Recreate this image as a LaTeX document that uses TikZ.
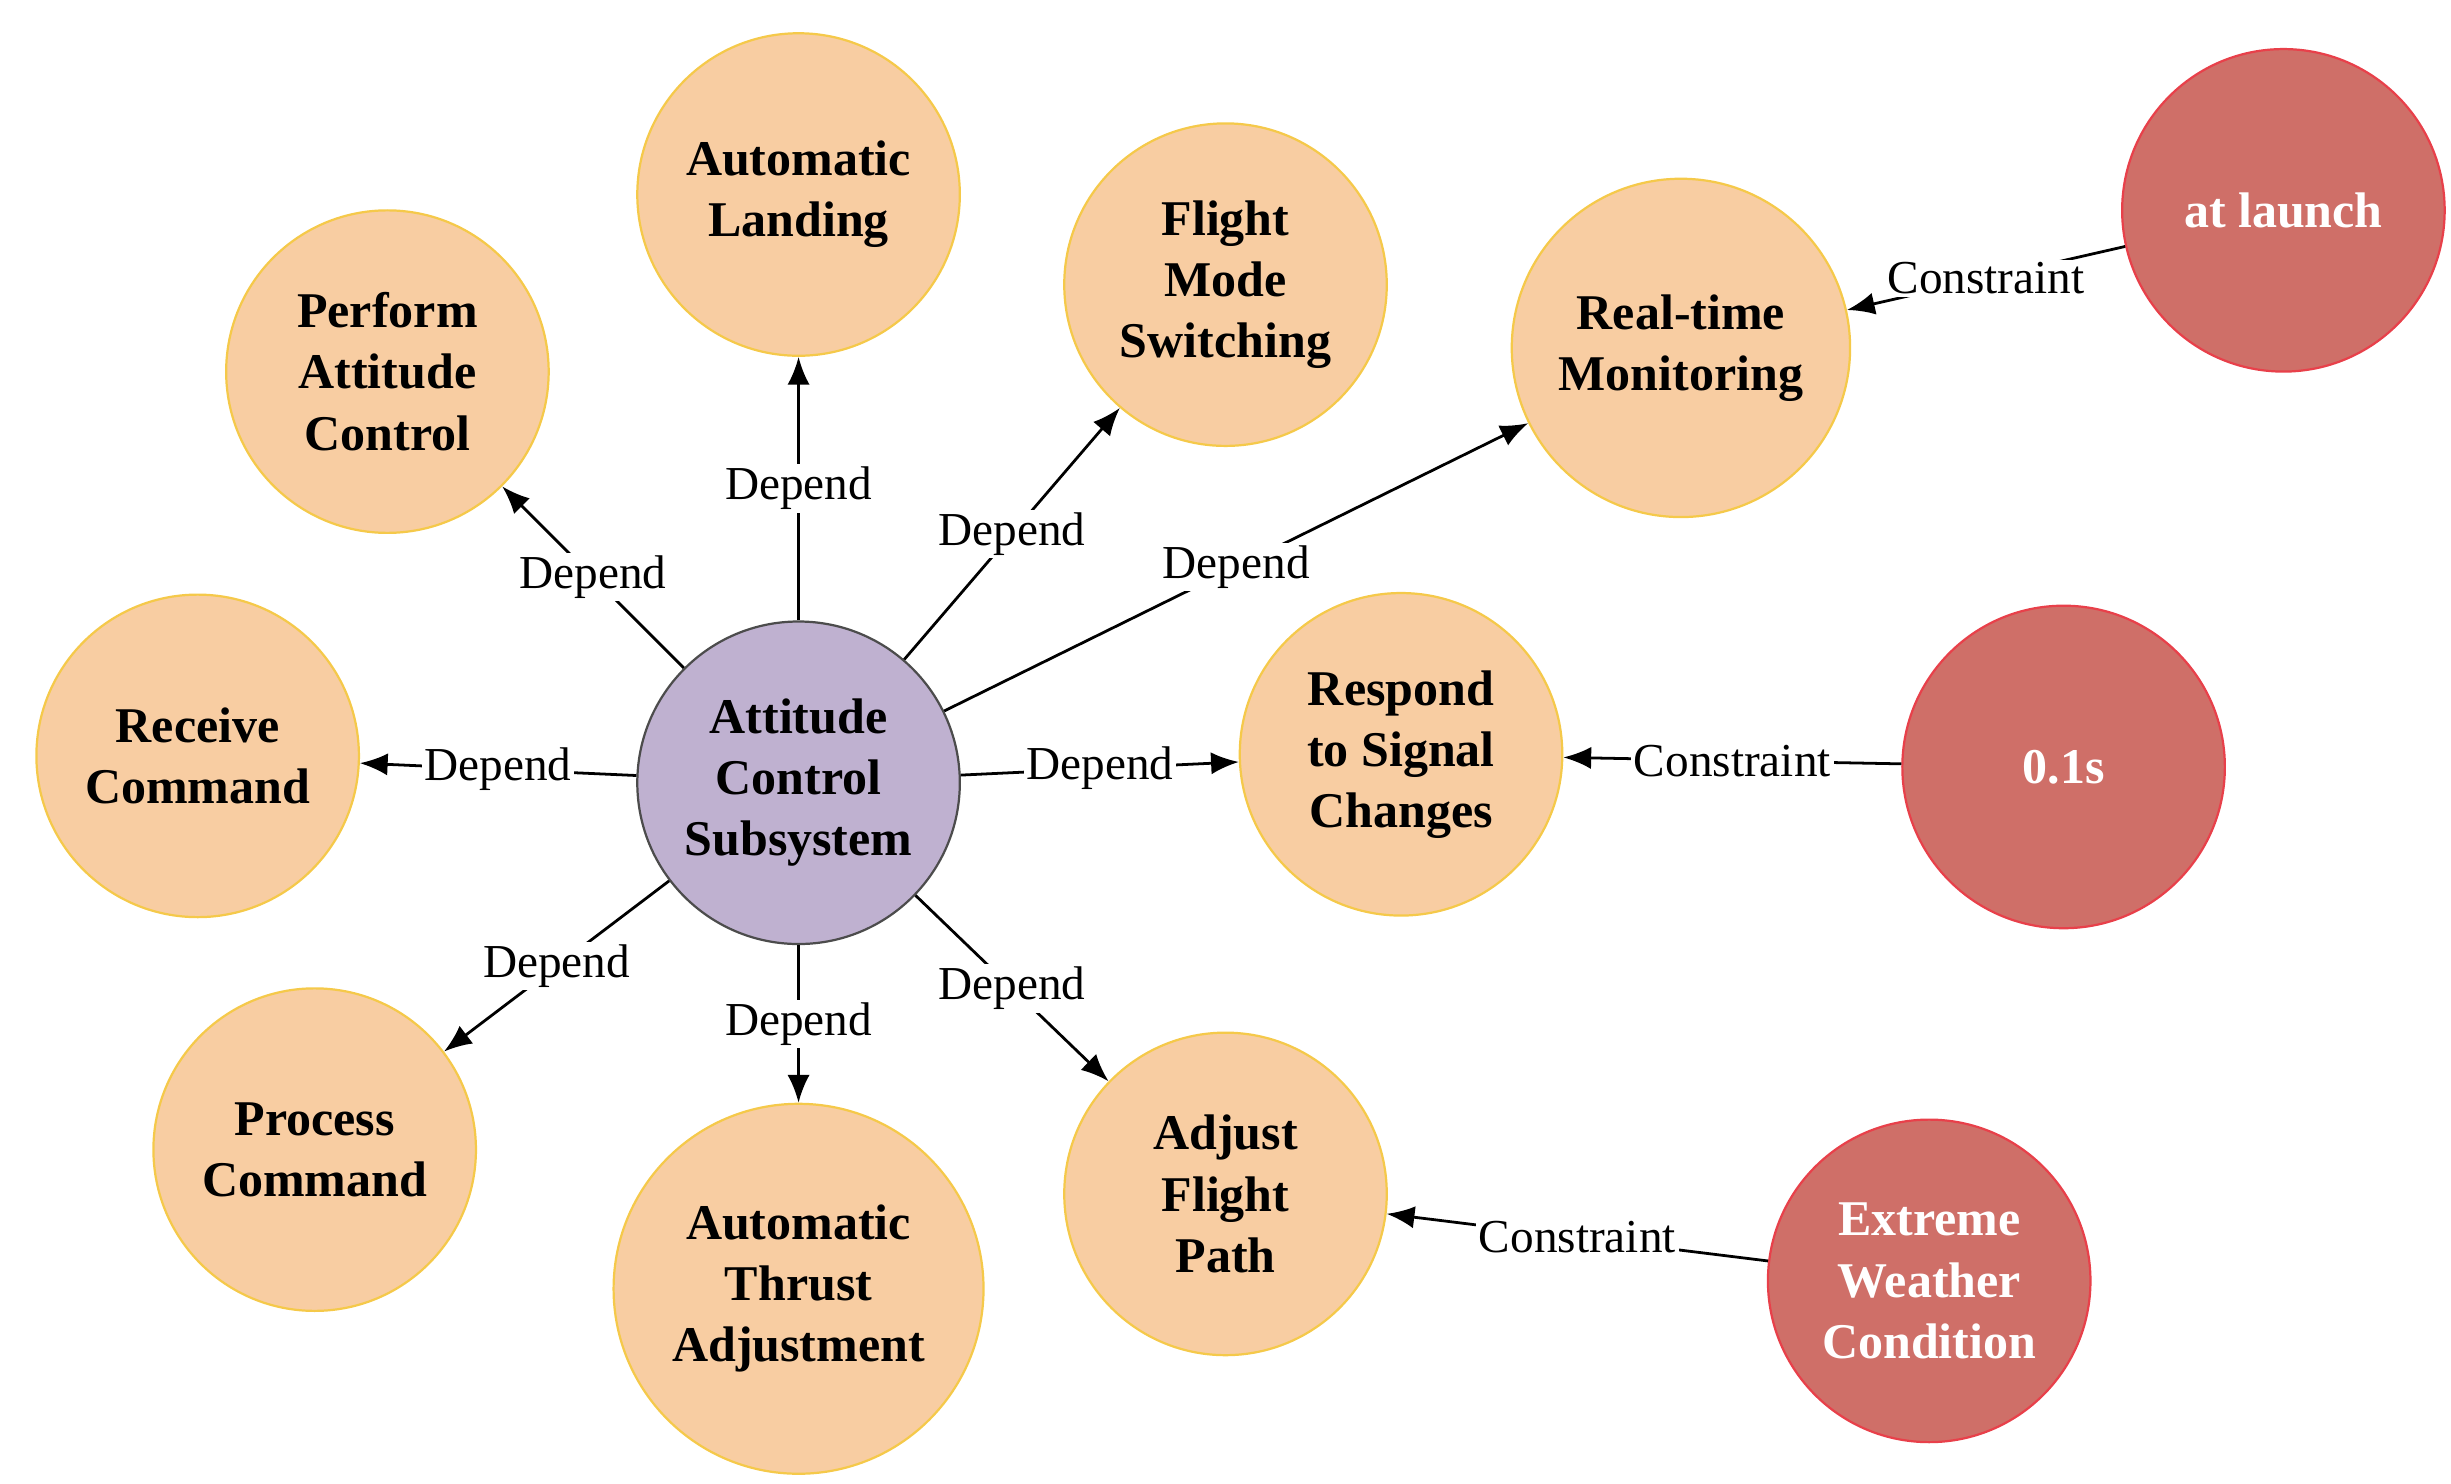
\documentclass[tikz,border=0pt]{standalone}
\usepackage{fontspec}
\setmainfont{Liberation Serif}
\usetikzlibrary{arrows.meta}
\definecolor{org}{HTML}{F8CDA2}
\definecolor{orgb}{HTML}{F5C94A}
\definecolor{pur}{HTML}{BFB1D0}
\definecolor{redf}{HTML}{CF6F68}
\definecolor{redb}{HTML}{E8404A}
\begin{document}
\begin{tikzpicture}[x=0.02cm,y=-0.02cm,
 base/.style={circle,inner sep=0pt,align=center,font=\fontsize{18}{22}\selectfont\bfseries,line width=0.8pt},
 task/.style={base,fill=org,draw=orgb,minimum size=4.08cm},
 cons/.style={base,fill=redf,draw=redb,text=white,minimum size=4.08cm},
 hub/.style={base,fill=pur,draw=black!70,minimum size=4.08cm},
 arr/.style={-{Latex[length=10pt,width=8pt]},line width=1pt},
 lab/.style={fill=white,inner sep=1pt,font=\fontsize{17}{20}\selectfont}]
\useasboundingbox (0,0) rectangle (1550,938);
\node[hub] (c) at (505,495) {Attitude\\Control\\Subsystem};
\node[task] (al) at (505,123) {Automatic\\Landing};
\node[task] (pa) at (245,235) {Perform\\Attitude\\Control};
\node[task] (fm) at (775,180) {Flight\\Mode\\Switching};
\node[task,minimum size=4.28cm] (rm) at (1063,220) {Real-time\\Monitoring};
\node[task] (rc) at (125,478) {Receive\\Command};
\node[task] (rs) at (886,477) {Respond\\to Signal\\Changes};
\node[task] (pc) at (199,727) {Process\\Command};
\node[task,minimum size=4.68cm] (at) at (505,815) {Automatic\\Thrust\\Adjustment};
\node[task] (af) at (775,755) {Adjust\\Flight\\Path};
\node[cons] (la) at (1444,133) {at launch};
\node[cons] (s) at (1305,485) {0.1s};
\node[cons] (ew) at (1220,810) {Extreme\\Weather\\Condition};
\foreach \t in {al,pa,fm,rm,rc,rs,pc,at,af}
  \draw[arr] (c) -- node[lab] {Depend} (\t);
\draw[arr] (la) -- node[lab] {Constraint} (rm);
\draw[arr] (s) -- node[lab] {Constraint} (rs);
\draw[arr] (ew) -- node[lab] {Constraint} (af);
\end{tikzpicture}
\end{document}
